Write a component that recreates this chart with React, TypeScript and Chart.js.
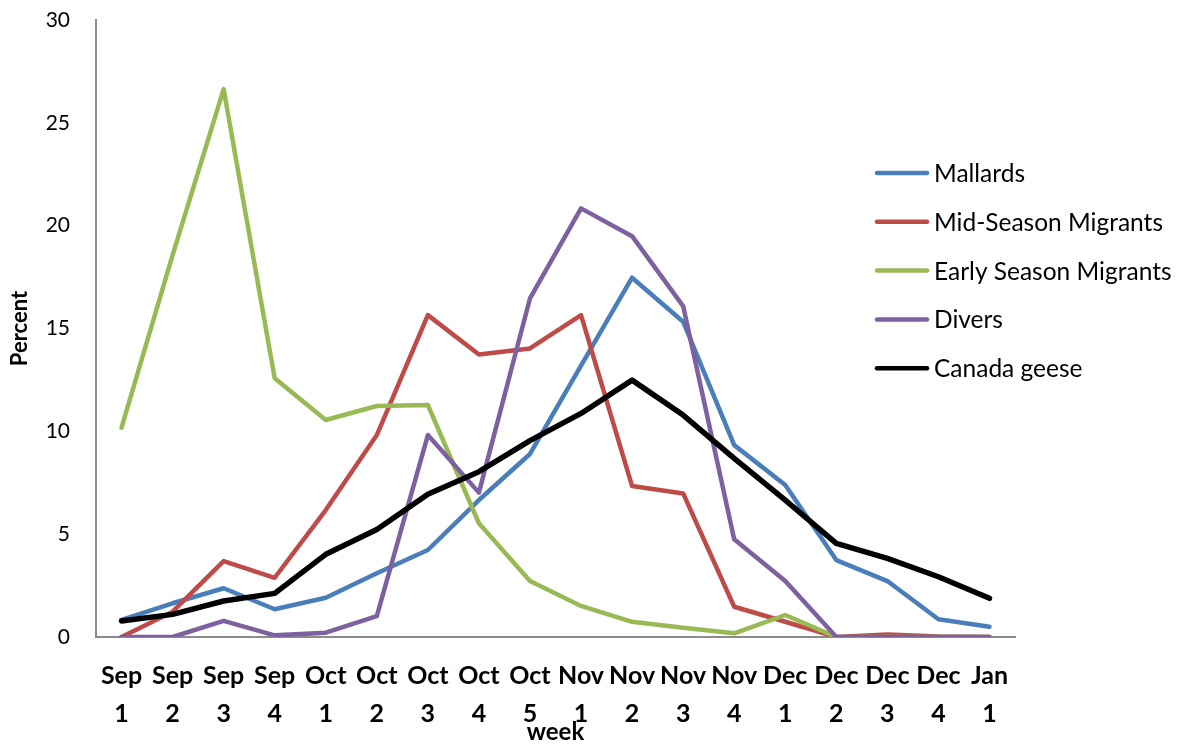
import React, { useEffect, useRef } from 'react';
import { Chart, registerables } from 'chart.js';

Chart.register(...registerables);

const weekLabels: string[][] = [
  ['Sep', '1'], ['Sep', '2'], ['Sep', '3'], ['Sep', '4'],
  ['Oct', '1'], ['Oct', '2'], ['Oct', '3'], ['Oct', '4'], ['Oct', '5'],
  ['Nov', '1'], ['Nov', '2'], ['Nov', '3'], ['Nov', '4'],
  ['Dec', '1'], ['Dec', '2'], ['Dec', '3'], ['Dec', '4'],
  ['Jan', '1'],
];

const mallards = [0.83, 1.64, 2.37, 1.35, 1.91, 3.1, 4.23, 6.66, 8.9, 13.2, 17.47, 15.33, 9.33, 7.39, 3.74, 2.72, 0.86, 0.5];
const midSeason = [0, 1.23, 3.69, 2.88, 6.17, 9.82, 15.65, 13.74, 14.03, 15.65, 7.34, 6.98, 1.47, 0.74, 0, 0.12, 0.03, 0];
const earlySeason = [10.18, 18.57, 26.64, 12.58, 10.55, 11.23, 11.28, 5.53, 2.72, 1.51, 0.74, 0.45, 0.18, 1.07, 0, 0, 0, 0];
const divers = [0, 0, 0.78, 0.08, 0.21, 1.02, 9.82, 7.02, 16.46, 20.84, 19.49, 16.09, 4.75, 2.72, 0, 0, 0, 0];
const canadaGeese = [0.78, 1.1, 1.75, 2.12, 4.02, 5.23, 6.94, 8.04, 9.55, 10.87, 12.49, 10.79, 8.69, 6.66, 4.55, 3.82, 2.93, 1.88];

const seriesNames = ['Mallards', 'Mid-Season Migrants', 'Early Season Migrants', 'Divers', 'Canada geese'];
const seriesColors = ['#4A7EBB', '#BE4B48', '#98B954', '#7D60A0', '#000000'];
const seriesWidths = [4.5, 4.5, 4.5, 4.5, 5.5];

const FONT = 'Lato, "Open Sans", sans-serif';

const sideLegend = {
  id: 'sideLegend',
  afterDraw(chart: any) {
    const ctx = chart.ctx as CanvasRenderingContext2D;
    const x0 = 877;
    const x1 = 927;
    const top = 173;
    const gap = 48.8;
    ctx.save();
    chart.data.datasets.forEach((ds: any, i: number) => {
      const y = top + i * gap;
      ctx.strokeStyle = ds.borderColor;
      ctx.lineWidth = 4.5;
      ctx.lineCap = 'round';
      ctx.beginPath();
      ctx.moveTo(x0, y);
      ctx.lineTo(x1, y);
      ctx.stroke();
      ctx.fillStyle = '#000';
      ctx.font = `24.5px ${FONT}`;
      ctx.textBaseline = 'middle';
      ctx.textAlign = 'left';
      ctx.fillText(ds.label, 934, y + 1);
    });
    ctx.restore();
  },
};

export default function App() {
  const ref = useRef<HTMLCanvasElement | null>(null);

  useEffect(() => {
    document.body.style.margin = '0';
    const canvas = ref.current;
    if (!canvas) return;
    const values = [mallards, midSeason, earlySeason, divers, canadaGeese];
    const chart = new Chart(canvas, {
      type: 'line',
      data: {
        labels: weekLabels,
        datasets: values.map((v, i) => ({
          label: seriesNames[i],
          data: v,
          borderColor: seriesColors[i],
          backgroundColor: seriesColors[i],
          borderWidth: seriesWidths[i],
          pointRadius: 0,
          tension: 0,
          borderJoinStyle: 'round' as const,
          borderCapStyle: 'round' as const,
          order: values.length - 1 - i,
          fill: false,
        })),
      },
      options: {
        animation: false,
        responsive: false,
        maintainAspectRatio: false,
        layout: { padding: { left: 0, right: 165, top: 20, bottom: 0 } },
        plugins: {
          legend: { display: false },
          tooltip: { enabled: false },
        },
        scales: {
          x: {
            offset: true,
            grid: { display: false, drawTicks: false },
            border: { color: '#8C8C8C', width: 2 },
            ticks: {
              color: '#000',
              padding: 20,
              maxRotation: 0,
              autoSkip: false,
              font: { family: FONT, size: 25, weight: 'bold', lineHeight: 1.52 },
            },
            title: {
              display: true,
              text: 'week',
              color: '#000',
              font: { family: FONT, size: 24, weight: 'bold', lineHeight: 1.0 },
              padding: { top: 0, bottom: 0 },
            },
            afterFit: (scale: any) => {
              scale.height = 107;
            },
          },
          y: {
            min: 0,
            max: 30,
            grid: {
              display: true,
              drawOnChartArea: false,
              drawTicks: true,
              tickLength: 26,
              color: 'rgba(0,0,0,0)',
            },
            border: { display: true, color: '#8C8C8C', width: 2 },
            ticks: {
              stepSize: 5,
              color: '#000',
              padding: 0,
              font: { family: FONT, size: 21 },
            },
            title: {
              display: true,
              text: 'Percent',
              color: '#000',
              font: { family: FONT, size: 22, weight: 'bold', lineHeight: 1.2 },
              padding: { top: 7, bottom: 0 },
            },
            afterFit: (scale: any) => {
              scale.width = 96;
            },
          },
        },
      },
      plugins: [sideLegend],
    });
    return () => chart.destroy();
  }, []);

  return (
    <div style={{ width: 1180, height: 744 }}>
      <canvas ref={ref} width={1180} height={744} style={{ display: 'block', width: 1180, height: 744 }} />
    </div>
  );
}
